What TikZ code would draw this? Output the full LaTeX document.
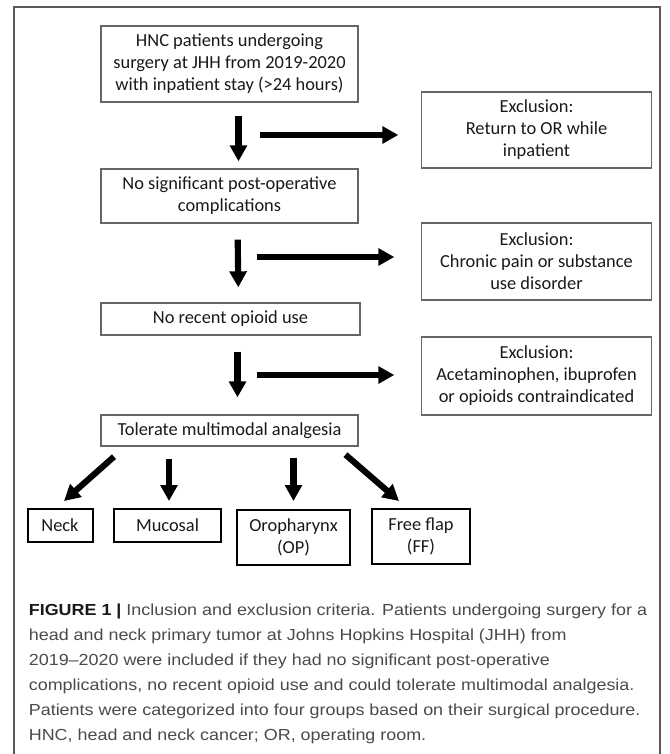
\documentclass[tikz,border=0pt]{standalone}
\usepackage{fontspec}
\setmainfont{Carlito}
\newfontfamily\capfont[FakeStretch=1.12]{Liberation Sans}
\usetikzlibrary{arrows.meta}
\definecolor{capgray}{HTML}{4A4A4A}
\definecolor{framegray}{HTML}{5A5A5A}
\begin{document}
\begin{tikzpicture}[x=0.75pt,y=-0.75pt,
  box/.style={draw=black!60,line width=1pt,align=center,inner sep=0pt,text=black!90,
    font=\fontsize{13.8}{16.5}\selectfont},
  grp/.style={box,draw=black,line width=1.5pt},
  fat/.style={line width=4.6pt,-{Triangle[length=12pt,width=12.5pt]}}]
\useasboundingbox (0,0) rectangle (669,754);
\draw[framegray,line width=0.9pt] (14,754) -- (14,7) -- (660,7) -- (660,754);
% main column
\node[box,minimum width=192.75pt,minimum height=57pt] (start) at (229.5,64)
  {HNC patients undergoing\\surgery at JHH from 2019-2020\\with inpatient stay (>24 hours)};
\node[box,minimum width=192.75pt,minimum height=40.5pt] (nocomp) at (229.5,196)
  {No significant post-operative\\complications};
\node[box,minimum width=194.25pt,minimum height=24pt] (noopioid) at (230.5,319)
  {No recent opioid use};
\node[box,minimum width=192.75pt,minimum height=23.25pt] (tolerate) at (229.5,430.5)
  {Tolerate multimodal analgesia};
% exclusions
\node[box,minimum width=172.5pt,minimum height=57pt] (excl1) at (536.5,130)
  {Exclusion:\\Return to OR while\\inpatient};
\node[box,minimum width=172.5pt,minimum height=57.75pt] (excl2) at (536.5,261.5)
  {Exclusion:\\Chronic pain or substance\\use disorder};
\node[box,minimum width=172.5pt,minimum height=58.5pt] (excl3) at (536.5,376)
  {Exclusion:\\Acetaminophen, ibuprofen\\or opioids contraindicated};
% groups
\node[grp,minimum width=48.75pt,minimum height=24.75pt] (neck) at (60,525.5) {Neck};
\node[grp,minimum width=80.25pt,minimum height=24.75pt] (mucosal) at (167.5,525.5) {Mucosal};
\node[grp,minimum width=84.75pt,minimum height=41.25pt] (oro) at (293.5,537.5) {Oropharynx\\(OP)};
\node[grp,minimum width=73.5pt,minimum height=41.25pt] (flap) at (421,536.5) {Free flap\\(FF)};
% arrows
\draw[fat,shorten <=9.75pt,shorten >=5.25pt] ([xshift=6.75pt]start.south) -- ([xshift=6.75pt]nocomp.north);
\draw[fat,shorten <=12pt,shorten >=11.25pt] ([xshift=6pt]nocomp.south) -- ([xshift=6pt]noopioid.north);
\draw[fat,shorten <=12pt,shorten >=12.75pt] ([xshift=5.25pt]noopioid.south) -- ([xshift=6pt]tolerate.north);
\draw[fat] ([shift={(-160.5,5)}]excl1.west) -- ([shift={(-22.5,5)}]excl1.west);
\draw[fat] ([shift={(-163.5,-4.5)}]excl2.west) -- ([shift={(-26.5,-4.5)}]excl2.west);
\draw[fat] ([shift={(-163.5,-1)}]excl3.west) -- ([shift={(-26.5,-1)}]excl3.west);
\draw[fat] ([shift={(-115.5,10)}]tolerate.south) -- ([shift={(4,-7)}]neck.north);
\draw[fat] ([shift={(-60.5,12)}]tolerate.south) -- ([shift={(1.5,-7)}]mucosal.north);
\draw[fat] ([shift={(64,11)}]tolerate.south) -- ([shift={(0,-8)}]oro.north);
\draw[fat] ([shift={(116,8)}]tolerate.south) -- ([shift={(-22,-7)}]flap.north);
% caption
\node[anchor=north west,align=left,inner sep=0pt,text=capgray,
  font=\capfont\fontsize{12}{18.75}\selectfont] (cap) at (28.6,604)
  {{\bfseries\color{black!90}FIGURE 1 |} Inclusion and exclusion criteria. Patients undergoing surgery for a\\
   head and neck primary tumor at Johns Hopkins Hospital (JHH) from\\
   2019–2020 were included if they had no significant post-operative\\
   complications, no recent opioid use and could tolerate multimodal analgesia.\\
   Patients were categorized into four groups based on their surgical procedure.\\
   HNC, head and neck cancer; OR, operating room.};
\end{tikzpicture}
\end{document}
